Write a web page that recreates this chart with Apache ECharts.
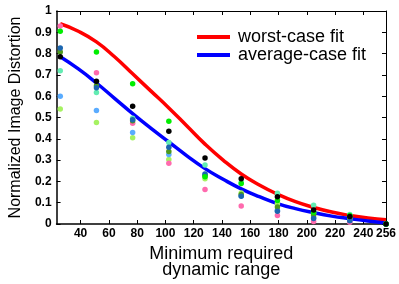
<!DOCTYPE html>
<html>
<head>
<meta charset="utf-8">
<script src="https://cdn.jsdelivr.net/npm/echarts@6/dist/echarts.min.js"></script>
<style>html,body{margin:0;padding:0;background:#fff}#c{width:399px;height:284px}</style>
</head>
<body>
<div id="c"></div>
<script>
// ---- data ----
var xTickValues = [40, 60, 80, 100, 120, 140, 160, 180, 200, 220, 240, 256];
var yTickValues = [0, 0.1, 0.2, 0.3, 0.4, 0.5, 0.6, 0.7, 0.8, 0.9, 1];
var ranges = [25.6, 51.2, 76.8, 102.4, 128, 153.6, 179.2, 204.8, 230.4, 256];

var blackPts = [0.785, 0.670, 0.553, 0.435, 0.310, 0.212, 0.128, 0.066, 0.035, 0.0];
var greenPts = [0.905, 0.808, 0.658, 0.482, 0.222, 0.190, 0.110, 0.055, 0.040, 0.0];
var pinkPts = [0.930, 0.710, 0.473, 0.285, 0.162, 0.085, 0.040, 0.012, 0.008, 0.0];
var tealPts = [0.720, 0.617, 0.497, 0.383, 0.277, 0.195, 0.144, 0.088, 0.045, 0.0];
var darkBluePts = [0.826, 0.640, 0.490, 0.360, 0.235, 0.130, 0.060, 0.026, 0.015, 0.0];
var olivePts = [0.808, 0.649, 0.485, 0.340, 0.226, 0.138, 0.080, 0.042, 0.030, 0.0];
var lightBluePts = [0.600, 0.533, 0.429, 0.326, 0.232, 0.133, 0.065, 0.030, 0.010, 0.0];
var limePts = [0.540, 0.477, 0.405, 0.303, 0.213, 0.145, 0.095, 0.050, 0.025, 0.0];

var fitX = [25.6, 38.4, 51.2, 64, 76.8, 89.6, 102.4, 115.2, 128, 140.8, 153.6, 166.4, 179.2, 192, 204.8, 217.6, 230.4, 243.2, 256];
var worstFit = [0.940, 0.905, 0.855, 0.785, 0.705, 0.625, 0.545, 0.460, 0.375, 0.300, 0.235, 0.183, 0.140, 0.105, 0.078, 0.056, 0.040, 0.028, 0.020];
var averageFit = [0.785, 0.728, 0.662, 0.590, 0.518, 0.450, 0.385, 0.320, 0.260, 0.210, 0.165, 0.128, 0.096, 0.072, 0.053, 0.037, 0.025, 0.014, 0.005];

var scatterSets = [
  {name: 'lime', color: '#a6f262', vals: limePts},
  {name: 'lightblue', color: '#5aacff', vals: lightBluePts},
  {name: 'pink', color: '#ff6aae', vals: pinkPts},
  {name: 'teal', color: '#62ecb2', vals: tealPts},
  {name: 'olive', color: '#4e9a1c', vals: olivePts},
  {name: 'darkblue', color: '#1c66b0', vals: darkBluePts},
  {name: 'green', color: '#00ee00', vals: greenPts},
  {name: 'black', color: '#000000', vals: blackPts}
];

function pairs(xs, ys) { return xs.map(function (x, i) { return [x, ys[i]]; }); }

var series = [
  {name: 'worst-case fit', type: 'line', smooth: true, showSymbol: false, symbol: 'none',
   lineStyle: {color: '#ff0000', width: 3.5}, itemStyle: {color: '#ff0000'},
   data: pairs(fitX, worstFit), z: 3},
  {name: 'average-case fit', type: 'line', smooth: true, showSymbol: false, symbol: 'none',
   lineStyle: {color: '#0000ff', width: 3.5}, itemStyle: {color: '#0000ff'},
   data: pairs(fitX, averageFit), z: 3}
];
scatterSets.forEach(function (s) {
  series.push({name: s.name, type: 'scatter', symbolSize: 5.5, itemStyle: {color: s.color, opacity: 1},
    data: pairs(ranges, s.vals), z: 4});
});

var chart = echarts.init(document.getElementById('c'), null, {renderer: 'canvas'});
var tickFont = {fontFamily: 'Arial, Liberation Sans, sans-serif', fontWeight: 'bold', fontSize: 12, color: '#000'};
chart.setOption({
  animation: false,
  backgroundColor: '#fff',
  grid: {left: 54, right: 12, top: 11, bottom: 54, containLabel: false},
  legend: {
    orient: 'vertical', left: 192, top: 23, itemWidth: 33, itemHeight: 4, itemGap: 0,
    icon: 'rect',
    data: [{name: 'worst-case fit', itemStyle: {color: '#ff0000'}}, {name: 'average-case fit', itemStyle: {color: '#0000ff'}}],
    textStyle: {fontFamily: 'Arial, Liberation Sans, sans-serif', fontSize: 18, color: '#000', lineHeight: 18, padding: [0, 0, 0, 3]}
  },
  xAxis: [
    {type: 'value', min: 23, max: 256, position: 'bottom',
     axisLine: {show: true, onZero: false, lineStyle: {color: '#000', width: 1.5}},
     axisTick: {show: true, inside: true, length: 4, customValues: xTickValues, lineStyle: {color: '#000'}},
     axisLabel: {show: true, customValues: xTickValues, margin: 4, ...tickFont},
     splitLine: {show: false},
     name: 'Minimum required\ndynamic range', nameLocation: 'middle', nameGap: 22,
     nameTextStyle: {fontFamily: 'Arial, Liberation Sans, sans-serif', fontSize: 18, color: '#000', lineHeight: 16}},
    {type: 'value', min: 23, max: 256, position: 'top',
     axisLine: {show: true, onZero: false, lineStyle: {color: '#000', width: 1}},
     axisTick: {show: true, inside: true, length: 4, customValues: xTickValues, lineStyle: {color: '#000'}},
     axisLabel: {show: false}, splitLine: {show: false}}
  ],
  yAxis: [
    {type: 'value', min: 0, max: 1, interval: 0.1, position: 'left',
     axisLine: {show: true, onZero: false, lineStyle: {color: '#000', width: 1.5}},
     axisTick: {show: true, inside: true, length: 4, lineStyle: {color: '#000'}},
     axisLabel: {show: true, margin: 5, ...tickFont, formatter: function (v) { return String(Math.round(v * 10) / 10); }},
     splitLine: {show: false},
     name: 'Normalized Image Distortion', nameLocation: 'middle', nameGap: 31,
     nameTextStyle: {fontFamily: 'Arial, Liberation Sans, sans-serif', fontSize: 16, color: '#000'}},
    {type: 'value', min: 0, max: 1, interval: 0.1, position: 'right',
     axisLine: {show: true, onZero: false, lineStyle: {color: '#000', width: 1}},
     axisTick: {show: true, inside: true, length: 4, lineStyle: {color: '#000'}},
     axisLabel: {show: false}, splitLine: {show: false}}
  ],
  series: series
});
</script>
</body>
</html>
